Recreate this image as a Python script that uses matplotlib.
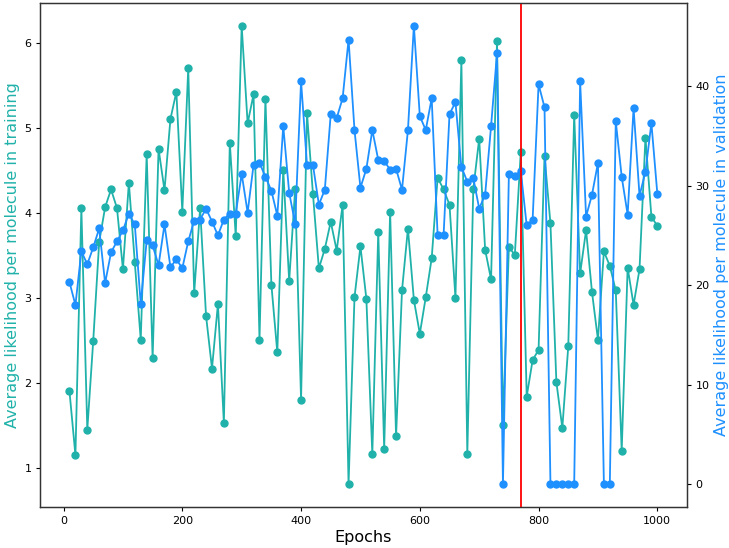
import matplotlib
matplotlib.use("Agg")
import matplotlib.pyplot as plt
import numpy as np

epochs = np.arange(10, 1001, 10)

train = [1.90, 1.15, 4.06, 1.45, 2.50, 3.66, 4.07, 4.28, 4.06, 3.34,
         4.36, 3.42, 2.51, 4.70, 2.29, 4.76, 4.27, 5.11, 5.43, 4.02,
         5.71, 3.06, 4.06, 2.79, 2.17, 2.93, 1.53, 4.83, 3.73, 6.21,
         5.06, 5.40, 2.51, 5.35, 3.16, 2.36, 4.51, 3.20, 4.28, 1.80,
         5.18, 4.23, 3.35, 3.58, 3.90, 3.56, 4.10, 0.81, 3.01, 3.61,
         2.99, 1.16, 3.78, 1.22, 4.02, 1.37, 3.09, 3.82, 2.98, 2.58,
         3.01, 3.47, 4.42, 4.28, 4.10, 3.00, 5.80, 1.16, 4.28, 4.88,
         3.57, 3.22, 6.03, 1.51, 3.60, 3.51, 4.72, 1.84, 2.27, 2.39,
         4.68, 3.88, 2.01, 1.47, 2.43, 5.16, 3.29, 3.80, 3.07, 2.51,
         3.55, 3.38, 3.09, 1.20, 3.36, 2.92, 3.34, 4.89, 3.96, 3.85]

valid = [20.3, 18.0, 23.4, 22.1, 23.8, 25.7, 20.2, 23.3, 24.4, 25.5,
         27.2, 26.1, 18.1, 24.5, 24.0, 22.0, 26.1, 21.8, 22.6, 21.7,
         24.4, 26.5, 26.6, 27.7, 26.4, 25.0, 26.6, 27.2, 27.2, 31.2,
         27.3, 32.1, 32.3, 30.9, 29.5, 27.0, 36.0, 29.3, 26.2, 40.5,
         32.1, 32.1, 28.1, 29.6, 37.2, 36.8, 38.8, 44.7, 35.6, 29.8,
         31.7, 35.6, 32.6, 32.5, 31.6, 31.7, 29.6, 35.6, 46.1, 37.0,
         35.6, 38.8, 25.0, 25.0, 37.2, 38.4, 31.9, 30.4, 30.8, 27.7,
         29.1, 36.0, 43.3, 0.0, 31.2, 31.0, 31.5, 26.0, 26.6, 40.2,
         37.9, 0.0, 0.0, 0.0, 0.0, 0.0, 40.5, 26.9, 29.1, 32.3,
         0.0, 0.0, 36.5, 30.9, 27.1, 37.8, 29.0, 31.4, 36.3, 29.2]

best_epoch = 770

# the reference looks like a ~0.8x downscaled default figure
plt.rcParams["xtick.labelsize"] = 8
plt.rcParams["ytick.labelsize"] = 8
plt.rcParams["xtick.major.size"] = 2.8
plt.rcParams["ytick.major.size"] = 2.8
plt.rcParams["axes.linewidth"] = 0.9
plt.rcParams["axes.edgecolor"] = "#333333"

fig, ax1 = plt.subplots(figsize=(7.29, 5.48), dpi=100)
fig.subplots_adjust(left=0.055, right=0.942, top=0.995, bottom=0.075)

ax1.plot(epochs, train, color="lightseagreen", marker="o", markersize=5, lw=1.3)
ax1.set_ylabel("Average likelihood per molecule in training", color="lightseagreen", fontsize=11.5, labelpad=3)
ax1.set_xlabel("Epochs", fontsize=11.5, labelpad=3)

ax2 = ax1.twinx()
ax2.plot(epochs, valid, color="dodgerblue", marker="o", markersize=5, lw=1.3)
ax2.set_ylabel("Average likelihood per molecule in validation", color="dodgerblue", fontsize=11.5, labelpad=3)

# red line on top of both series
ax2.axvline(best_epoch, color="red", lw=1.3)

fig.savefig("out.png", dpi=100)
